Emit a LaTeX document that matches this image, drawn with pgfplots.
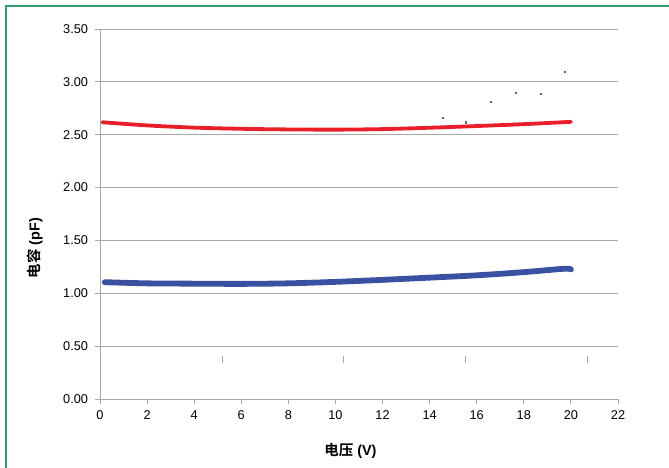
\documentclass[border=0pt]{standalone}
\usepackage{pgfplots}
\pgfplotsset{compat=1.18}
\usepackage{fontspec}
\setmainfont{Liberation Sans}
\newfontfamily\cjk{Noto Sans CJK SC}[BoldFont={Noto Sans CJK SC Bold}]
\definecolor{frame}{RGB}{46,158,108}
\definecolor{gridgray}{RGB}{168,168,168}
\definecolor{cred}{RGB}{232,30,40}
\definecolor{cblue}{RGB}{58,80,160}

\begin{document}
\begin{tikzpicture}
\useasboundingbox (0,0) rectangle (669bp,468bp);
\draw[frame, line width=1.6bp] (5.8bp,0) -- (5.8bp,462.2bp) -- (669bp,462.2bp);
\begin{axis}[
    at={(100bp,69bp)}, anchor=south west,
    scale only axis,
    width=518bp, height=370bp,
    xmin=0, xmax=22, ymin=0, ymax=3.5,
    xtick={0,2,...,22},
    ytick={0,0.5,...,3.5},
    axis x line*=bottom, axis y line*=left,
    axis line style={gridgray, line width=0.9bp, -},
    ymajorgrids,
    grid style={gridgray, line width=0.9bp},
    tick align=outside,
    major tick length=5bp,
    tick style={gridgray, line width=0.9bp},
    /pgf/number format/assume math mode=true,
    yticklabel style={/pgf/number format/fixed, /pgf/number format/fixed zerofill, /pgf/number format/precision=2, xshift=-3.5bp},
    xticklabel style={yshift=-3.5bp},
    ticklabel style={font=\fontsize{12.8}{14}\selectfont, text=black},
    xlabel={\bfseries{\cjk 电压} (V)},
    ylabel={\bfseries{\cjk 电容} (pF)},
    label style={font=\fontsize{14.5}{16}\selectfont},
    xlabel style={at={(axis description cs:0.4835,-0.139)}, anchor=center},
    ylabel style={at={(axis description cs:-0.1255,0.408)}, anchor=center, rotate=0},
    clip=false,
]
% capacitance, lower curve
\addplot[cblue, line width=5.8bp, smooth, line cap=round] coordinates {
    (0.2,1.105) (2,1.094) (4,1.091) (6,1.089) (8,1.094) (10,1.108)
    (12,1.127) (14,1.148) (16,1.170) (18,1.200) (19.7,1.232) (20,1.226)
};
% capacitance, upper curve
\addplot[cred, line width=3.8bp, smooth, line cap=round] coordinates {
    (0.1,2.618) (2,2.588) (4,2.567) (6,2.556) (8,2.550) (10,2.548)
    (12,2.553) (14,2.566) (16,2.582) (18,2.600) (20,2.622)
};
% stray dots
\addplot[only marks, mark=square*, mark size=0.6bp, black!60] coordinates {
    (14.57,2.664) (15.54,2.618) (16.61,2.815) (17.67,2.895) (18.73,2.890) (19.75,3.094)
};
% stray ticks
\addplot[only marks, mark=|, mark size=3.2bp, gridgray, mark options={line width=0.9bp}] coordinates {
    (5.18,0.375) (10.36,0.375) (15.54,0.375) (20.72,0.375)
};
\end{axis}
\end{tikzpicture}
\end{document}
